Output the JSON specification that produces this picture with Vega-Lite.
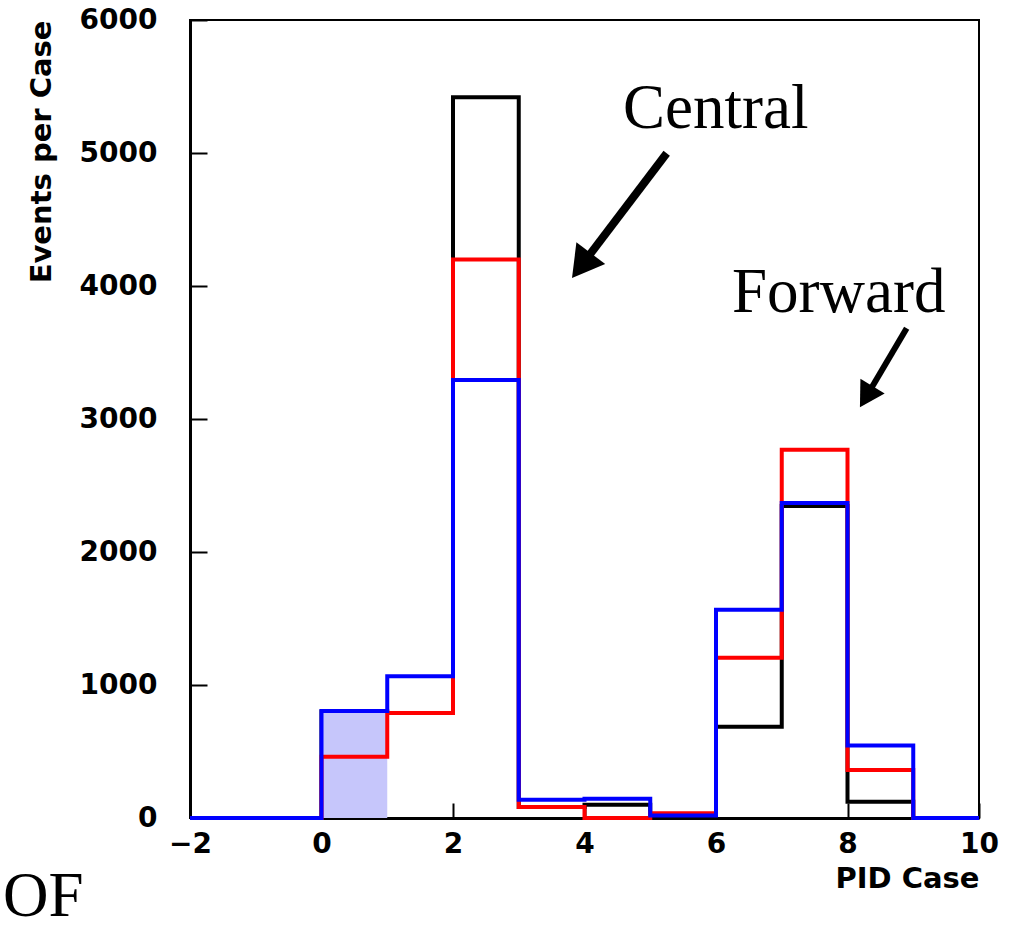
{
  "$schema": "https://vega.github.io/schema/vega-lite/v6.json",
  "width": 789,
  "height": 798,
  "autosize": {"type": "none"},
  "padding": {"left": 190, "top": 20, "right": 32, "bottom": 112},
  "background": "white",
  "config": {
    "view": {"stroke": "black", "strokeWidth": 2},
    "axis": {
      "grid": false,
      "labelFlush": false,
      "domainColor": "black",
      "domainWidth": 3,
      "tickColor": "black",
      "tickWidth": 2,
      "labelFont": "DejaVu Sans",
      "labelFontSize": 28,
      "labelFontWeight": "bold",
      "labelColor": "black",
      "titleFont": "DejaVu Sans",
      "titleFontSize": 29,
      "titleFontWeight": "bold",
      "titleColor": "black"
    }
  },
  "datasets": {
    "hist": [
      {"series": "black", "x": -2, "v": 0}, {"series": "black", "x": 0, "v": 800}, {"series": "black", "x": 1, "v": 789},
      {"series": "black", "x": 2, "v": 5420}, {"series": "black", "x": 3, "v": 83}, {"series": "black", "x": 4, "v": 100},
      {"series": "black", "x": 5, "v": 10}, {"series": "black", "x": 6, "v": 686}, {"series": "black", "x": 7, "v": 2346},
      {"series": "black", "x": 8, "v": 123}, {"series": "black", "x": 9, "v": 0}, {"series": "black", "x": 10, "v": 0},
      {"series": "red", "x": -2, "v": 0}, {"series": "red", "x": 0, "v": 461}, {"series": "red", "x": 1, "v": 789},
      {"series": "red", "x": 2, "v": 4200}, {"series": "red", "x": 3, "v": 83}, {"series": "red", "x": 4, "v": 0},
      {"series": "red", "x": 5, "v": 35}, {"series": "red", "x": 6, "v": 1205}, {"series": "red", "x": 7, "v": 2768},
      {"series": "red", "x": 8, "v": 361}, {"series": "red", "x": 9, "v": 0}, {"series": "red", "x": 10, "v": 0},
      {"series": "blue", "x": -2, "v": 0}, {"series": "blue", "x": 0, "v": 805}, {"series": "blue", "x": 1, "v": 1065},
      {"series": "blue", "x": 2, "v": 3293}, {"series": "blue", "x": 3, "v": 138}, {"series": "blue", "x": 4, "v": 145},
      {"series": "blue", "x": 5, "v": 18}, {"series": "blue", "x": 6, "v": 1566}, {"series": "blue", "x": 7, "v": 2368},
      {"series": "blue", "x": 8, "v": 545}, {"series": "blue", "x": 9, "v": 0}, {"series": "blue", "x": 10, "v": 0}
    ],
    "shade": [{"x": 0, "x1": 1, "v": 805, "base": 0}],
    "notes": [
      {"text": "Central", "x": 4.585, "v": 5188},
      {"text": "Forward", "x": 6.243, "v": 3805},
      {"text": "OF", "x": -4.844, "v": -737}
    ],
    "arrowCentral": [{"x": 5.25, "v": 4998, "xh": 3.953, "vh": 4153}],
    "arrowForward": [{"x": 8.9, "v": 3682, "xh": 8.285, "vh": 3168}]
  },
  "layer": [
    {
      "data": {"name": "hist"},
      "transform": [{"filter": "datum.series === 'black'"}],
      "mark": {"type": "line", "interpolate": "step-after", "strokeWidth": 4, "color": "black", "strokeJoin": "miter"},
      "encoding": {
        "x": {
          "field": "x", "type": "quantitative",
          "scale": {"domain": [-2, 10], "nice": false, "zero": false},
          "axis": {"values": [-2, 0, 2, 4, 6, 8, 10], "format": "d", "labelFlush": false, "tickSize": -15, "labelPadding": 27, "title": "PID Case", "titleAnchor": "end", "titlePadding": 6}
        },
        "y": {
          "field": "v", "type": "quantitative",
          "scale": {"domain": [0, 6000], "nice": false},
          "axis": {"values": [0, 1000, 2000, 3000, 4000, 5000, 6000], "format": "d", "labelFlush": false, "tickSize": -17, "labelPadding": 50, "title": "Events per Case", "titleAnchor": "end", "titlePadding": 23}
        }
      }
    },
    {
      "data": {"name": "shade"},
      "mark": {"type": "rect", "fill": "#c6c6fb"},
      "encoding": {
        "x": {"field": "x", "type": "quantitative"},
        "x2": {"field": "x1"},
        "y": {"field": "v", "type": "quantitative"},
        "y2": {"field": "base"}
      }
    },
    {
      "data": {"name": "hist"},
      "transform": [{"filter": "datum.series === 'red'"}],
      "mark": {"type": "line", "interpolate": "step-after", "strokeWidth": 4, "color": "#ff0000", "strokeJoin": "miter"},
      "encoding": {
        "x": {"field": "x", "type": "quantitative"},
        "y": {"field": "v", "type": "quantitative"}
      }
    },
    {
      "data": {"name": "hist"},
      "transform": [{"filter": "datum.series === 'blue'"}],
      "mark": {"type": "line", "interpolate": "step-after", "strokeWidth": 4, "color": "#0000ff", "strokeJoin": "miter"},
      "encoding": {
        "x": {"field": "x", "type": "quantitative"},
        "y": {"field": "v", "type": "quantitative"}
      }
    },
    {
      "data": {"name": "notes"},
      "mark": {"type": "text", "font": "Liberation Serif", "fontSize": 63, "align": "left", "baseline": "alphabetic", "color": "black"},
      "encoding": {
        "x": {"field": "x", "type": "quantitative"},
        "y": {"field": "v", "type": "quantitative"},
        "text": {"field": "text"}
      }
    },
    {
      "data": {"name": "arrowCentral"},
      "mark": {"type": "rule", "strokeWidth": 8, "color": "black"},
      "encoding": {
        "x": {"field": "x", "type": "quantitative"},
        "y": {"field": "v", "type": "quantitative"},
        "x2": {"field": "xh"},
        "y2": {"field": "vh"}
      }
    },
    {
      "data": {"name": "arrowCentral"},
      "mark": {"type": "point", "shape": "triangle-up", "filled": true, "size": 1300, "angle": 217, "color": "black", "opacity": 1},
      "encoding": {
        "x": {"field": "xh", "type": "quantitative", "title": "PID Case"},
        "y": {"field": "vh", "type": "quantitative", "title": "Events per Case"}
      }
    },
    {
      "data": {"name": "arrowForward"},
      "mark": {"type": "rule", "strokeWidth": 6, "color": "black"},
      "encoding": {
        "x": {"field": "x", "type": "quantitative"},
        "y": {"field": "v", "type": "quantitative"},
        "x2": {"field": "xh"},
        "y2": {"field": "vh"}
      }
    },
    {
      "data": {"name": "arrowForward"},
      "mark": {"type": "point", "shape": "triangle-up", "filled": true, "size": 800, "angle": 211, "color": "black", "opacity": 1},
      "encoding": {
        "x": {"field": "xh", "type": "quantitative", "title": "PID Case"},
        "y": {"field": "vh", "type": "quantitative", "title": "Events per Case"}
      }
    }
  ]
}
